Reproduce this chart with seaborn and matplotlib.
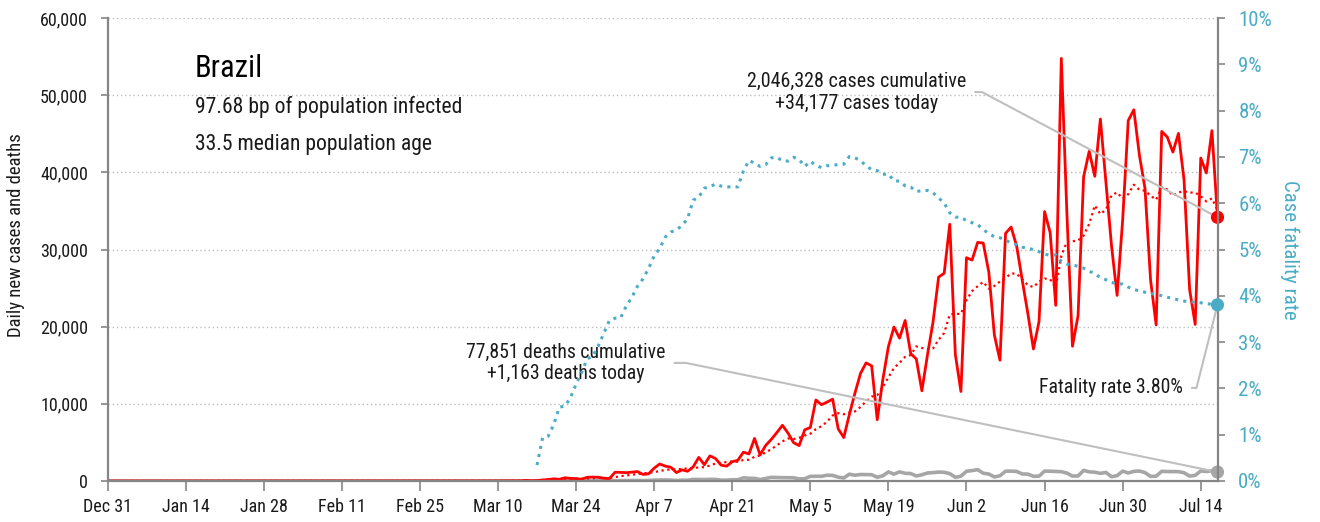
import numpy as np
import pandas as pd
import matplotlib
matplotlib.use("Agg")
import matplotlib.pyplot as plt
import matplotlib.dates as mdates
from matplotlib.ticker import FuncFormatter
import seaborn as sns

# ---------------- data ----------------
country = "Brazil"
subtitle_lines = ["97.68 bp of population infected", "33.5 median population age"]
axis_start = "2019-12-31"
axis_end = "2020-07-17"

cases_start = "2020-02-26"
daily_cases = [
    1, 0, 0, 1,
    0, 0, 0, 1, 4, 6, 6, 6, 0, 9, 18, 25, 21, 23, 79, 34, 57, 137, 193, 283, 224, 418,
    345, 310, 232, 482, 502, 487, 352, 323, 1138,
    1119, 1074, 1146, 1222, 852, 926, 1661, 2210, 1930, 1781, 1089, 1442, 1261, 1832, 3058,
    2105, 3257, 2917, 2055, 1927, 2498, 2678, 3735, 3503, 5514, 3379, 4613, 5385, 6276, 7218,
    6209, 4970, 4588, 6633, 6935, 10503, 9888, 10222, 10611, 6760, 5632, 8620, 11385, 13944,
    15305, 14919, 7938, 13140, 17408, 19951, 18508, 20803, 16508, 15813, 11687, 16324, 20599,
    26417, 26928, 33274, 16409,
    11598, 28936, 28633, 30925, 30830, 27075, 18912, 15654, 32091, 32913, 30412, 25982, 21704,
    17110, 20647, 34918, 32188, 22765, 54771, 34666, 17459, 21432, 39436, 42725, 39483, 46907,
    38693, 30476, 24052, 33846,
    46712, 48105, 42223, 37923, 26051, 20229, 45305, 44571, 42619, 45048, 39023, 24831, 20286,
    41857, 39924, 45403, 34177,
]

deaths_start = "2020-03-17"
daily_deaths = [
    1, 3, 2, 5, 7, 7, 9, 12, 11, 20, 15, 22, 22, 23, 42,
    40, 58, 60, 73, 54, 67, 114, 133, 141, 115, 68, 99, 105, 204, 204, 188, 217, 206, 115, 113,
    166, 165, 407, 357, 346, 189, 338, 474, 449, 435,
    428, 421, 275, 296, 600, 615, 610, 751, 730, 496, 396, 881, 749, 844, 824, 816, 485, 674,
    1179, 888, 1188, 1001, 965, 653, 807, 1039, 1086, 1156, 1124, 956, 480,
    623, 1262, 1349, 1473, 1005, 904, 525, 679, 1272, 1274, 1239, 909, 892, 612, 627, 1282,
    1269, 1238, 1206, 1022, 641, 654, 1374, 1185, 1141, 990, 1109, 552, 692, 1280,
    1038, 1252, 1290, 1091, 602, 620, 1254, 1223, 1220, 1214, 1071, 631, 733, 1300, 1233,
    1322, 1163,
]

cases_note = "2,046,328 cases cumulative\n+34,177 cases today"
deaths_note = "77,851 deaths cumulative\n+1,163 deaths today"
cfr_note = "Fatality rate 3.80%"
left_ticks = [0, 10000, 20000, 30000, 40000, 50000, 60000]
right_ticks = [0, 1, 2, 3, 4, 5, 6, 7, 8, 9, 10]
left_label = "Daily new cases and deaths"
right_label = "Case fatality rate"

# ---------------- derived series ----------------
dates = pd.date_range(axis_start, axis_end, freq="D")
cases = pd.Series(daily_cases, index=pd.date_range(cases_start, periods=len(daily_cases))).reindex(dates, fill_value=0)
deaths = pd.Series(daily_deaths, index=pd.date_range(deaths_start, periods=len(daily_deaths))).reindex(dates, fill_value=0)
avg7 = cases.rolling(7, min_periods=1).mean()
cum_d = deaths.cumsum()
cfr = (cum_d / cases.cumsum() * 100).where(cum_d > 0)
df = pd.DataFrame({"date": dates, "cases": cases.values, "deaths": deaths.values,
                   "avg7": avg7.values, "cfr": cfr.values})

# ---------------- style ----------------
RED = "#FF0000"
TEAL = "#4BACC6"
GREY = "#A6A6A6"
LEADER = "#BFBFBF"
SPINE = "#868686"
TXT = "#1A1A1A"

sns.set_theme(style="white")
plt.rcParams["font.family"] = ["Liberation Sans Narrow", "Roboto Condensed", "DejaVu Sans"]

W, H = 1320, 522
fig = plt.figure(figsize=(W / 100, H / 100), dpi=100)
L, R, T, B = 107.5, 1217.5, 18, 481
ax = fig.add_axes([L / W, 1 - B / H, (R - L) / W, (B - T) / H])

ax.grid(axis="y", color="#BDBDBD", linestyle=(0, (1, 2)), linewidth=1)
ax.set_axisbelow(True)

sns.lineplot(data=df, x="date", y="deaths", ax=ax, color=GREY, lw=2.6)
sns.lineplot(data=df, x="date", y="avg7", ax=ax, color=RED, lw=1.6, ls=(0, (1, 1.6)))
sns.lineplot(data=df, x="date", y="cases", ax=ax, color=RED, lw=2)

last = df.iloc[[-1]]
sns.scatterplot(data=last, x="date", y="cases", ax=ax, color=RED, s=90, edgecolor="none", clip_on=False, zorder=5)
sns.scatterplot(data=last, x="date", y="deaths", ax=ax, color=GREY, s=90, edgecolor="none", clip_on=False, zorder=5)

ax2 = ax.twinx()
sns.lineplot(data=df, x="date", y="cfr", ax=ax2, color=TEAL, lw=2.2, ls=(0, (1, 1.7)))
sns.scatterplot(data=last, x="date", y="cfr", ax=ax2, color=TEAL, s=90, edgecolor="none", clip_on=False, zorder=5)

# axes limits and ticks
ax.set_xlim(dates[0], dates[-1])
ax.set_ylim(left_ticks[0], left_ticks[-1])
ax2.set_ylim(right_ticks[0], right_ticks[-1])
ax.set_xticks(pd.date_range(axis_start, axis_end, freq="14D"))
ax.xaxis.set_major_formatter(mdates.DateFormatter("%b %-d"))
ax.set_yticks(left_ticks)
ax.yaxis.set_major_formatter(FuncFormatter(lambda v, p: f"{v:,.0f}"))
ax2.set_yticks(right_ticks)
ax2.yaxis.set_major_formatter(FuncFormatter(lambda v, p: f"{v:.0f}%"))

ax.set_xlabel("")
ax.set_ylabel(left_label, fontsize=13.5, color=TXT)
ax.yaxis.set_label_coords(-0.074, 0.53)
ax2.set_ylabel(right_label, fontsize=15, color=TEAL, rotation=270, va="center")
ax2.yaxis.set_label_coords(1.065, 0.5)

for s in ["top", "right"]:
    ax.spines[s].set_visible(False)
for s in ["top", "left", "bottom"]:
    ax2.spines[s].set_visible(False)
for s in ["left", "bottom"]:
    ax.spines[s].set_color(SPINE)
    ax.spines[s].set_linewidth(1.6)
ax2.spines["right"].set_color(SPINE)
ax2.spines["right"].set_linewidth(1.6)

ax.tick_params(axis="y", direction="out", length=5, width=1.2, color=SPINE,
               labelsize=13, labelcolor=TXT, pad=9, left=True)
ax.tick_params(axis="x", direction="out", length=7, width=1.2, color=SPINE,
               labelsize=13, labelcolor=TXT, pad=5, bottom=True)
ax2.tick_params(axis="y", direction="out", length=5, width=1.2, color=SPINE,
                labelsize=15, labelcolor=TEAL, pad=10, right=True)

# title block
ax.text(0.0788, 0.8726, country, transform=ax.transAxes, fontsize=22, color="#000000", va="baseline")
ax.text(0.0788, 0.7948, subtitle_lines[0], transform=ax.transAxes, fontsize=15.6, color=TXT, va="baseline")
ax.text(0.0788, 0.7150, subtitle_lines[1], transform=ax.transAxes, fontsize=15.6, color=TXT, va="baseline")

# annotations
xlast = mdates.date2num(df["date"].iloc[-1])
ax.annotate(cases_note, xy=(xlast, df["cases"].iloc[-1]), xycoords="data",
            xytext=(0.675, 0.840), textcoords="axes fraction", ha="center", va="center",
            fontsize=14.4, color=TXT, linespacing=1.2, annotation_clip=False,
            arrowprops=dict(arrowstyle="-", color=LEADER, lw=1.5, relpos=(1, 0.5),
                            shrinkA=4, shrinkB=0,
                            connectionstyle="angle,angleA=0,angleB=-28,rad=0"))
ax.annotate(deaths_note, xy=(xlast, df["deaths"].iloc[-1]), xycoords="data",
            xytext=(0.413, 0.255), textcoords="axes fraction", ha="center", va="center",
            fontsize=14.2, color=TXT, linespacing=1.2, annotation_clip=False,
            arrowprops=dict(arrowstyle="-", color=LEADER, lw=1.5, relpos=(1, 0.5),
                            shrinkA=4, shrinkB=0,
                            connectionstyle="angle,angleA=0,angleB=-11.6,rad=0"))
ax2.annotate(cfr_note, xy=(xlast, df["cfr"].iloc[-1]), xycoords="data",
             xytext=(0.969, 0.201), textcoords="axes fraction", ha="right", va="center",
             fontsize=14.2, color=TXT, annotation_clip=False,
             arrowprops=dict(arrowstyle="-", color=LEADER, lw=1.5, relpos=(1, 0.5),
                             shrinkA=4, shrinkB=0,
                             connectionstyle="angle,angleA=0,angleB=75.8,rad=0"))

fig.savefig("out.png", dpi=100)
